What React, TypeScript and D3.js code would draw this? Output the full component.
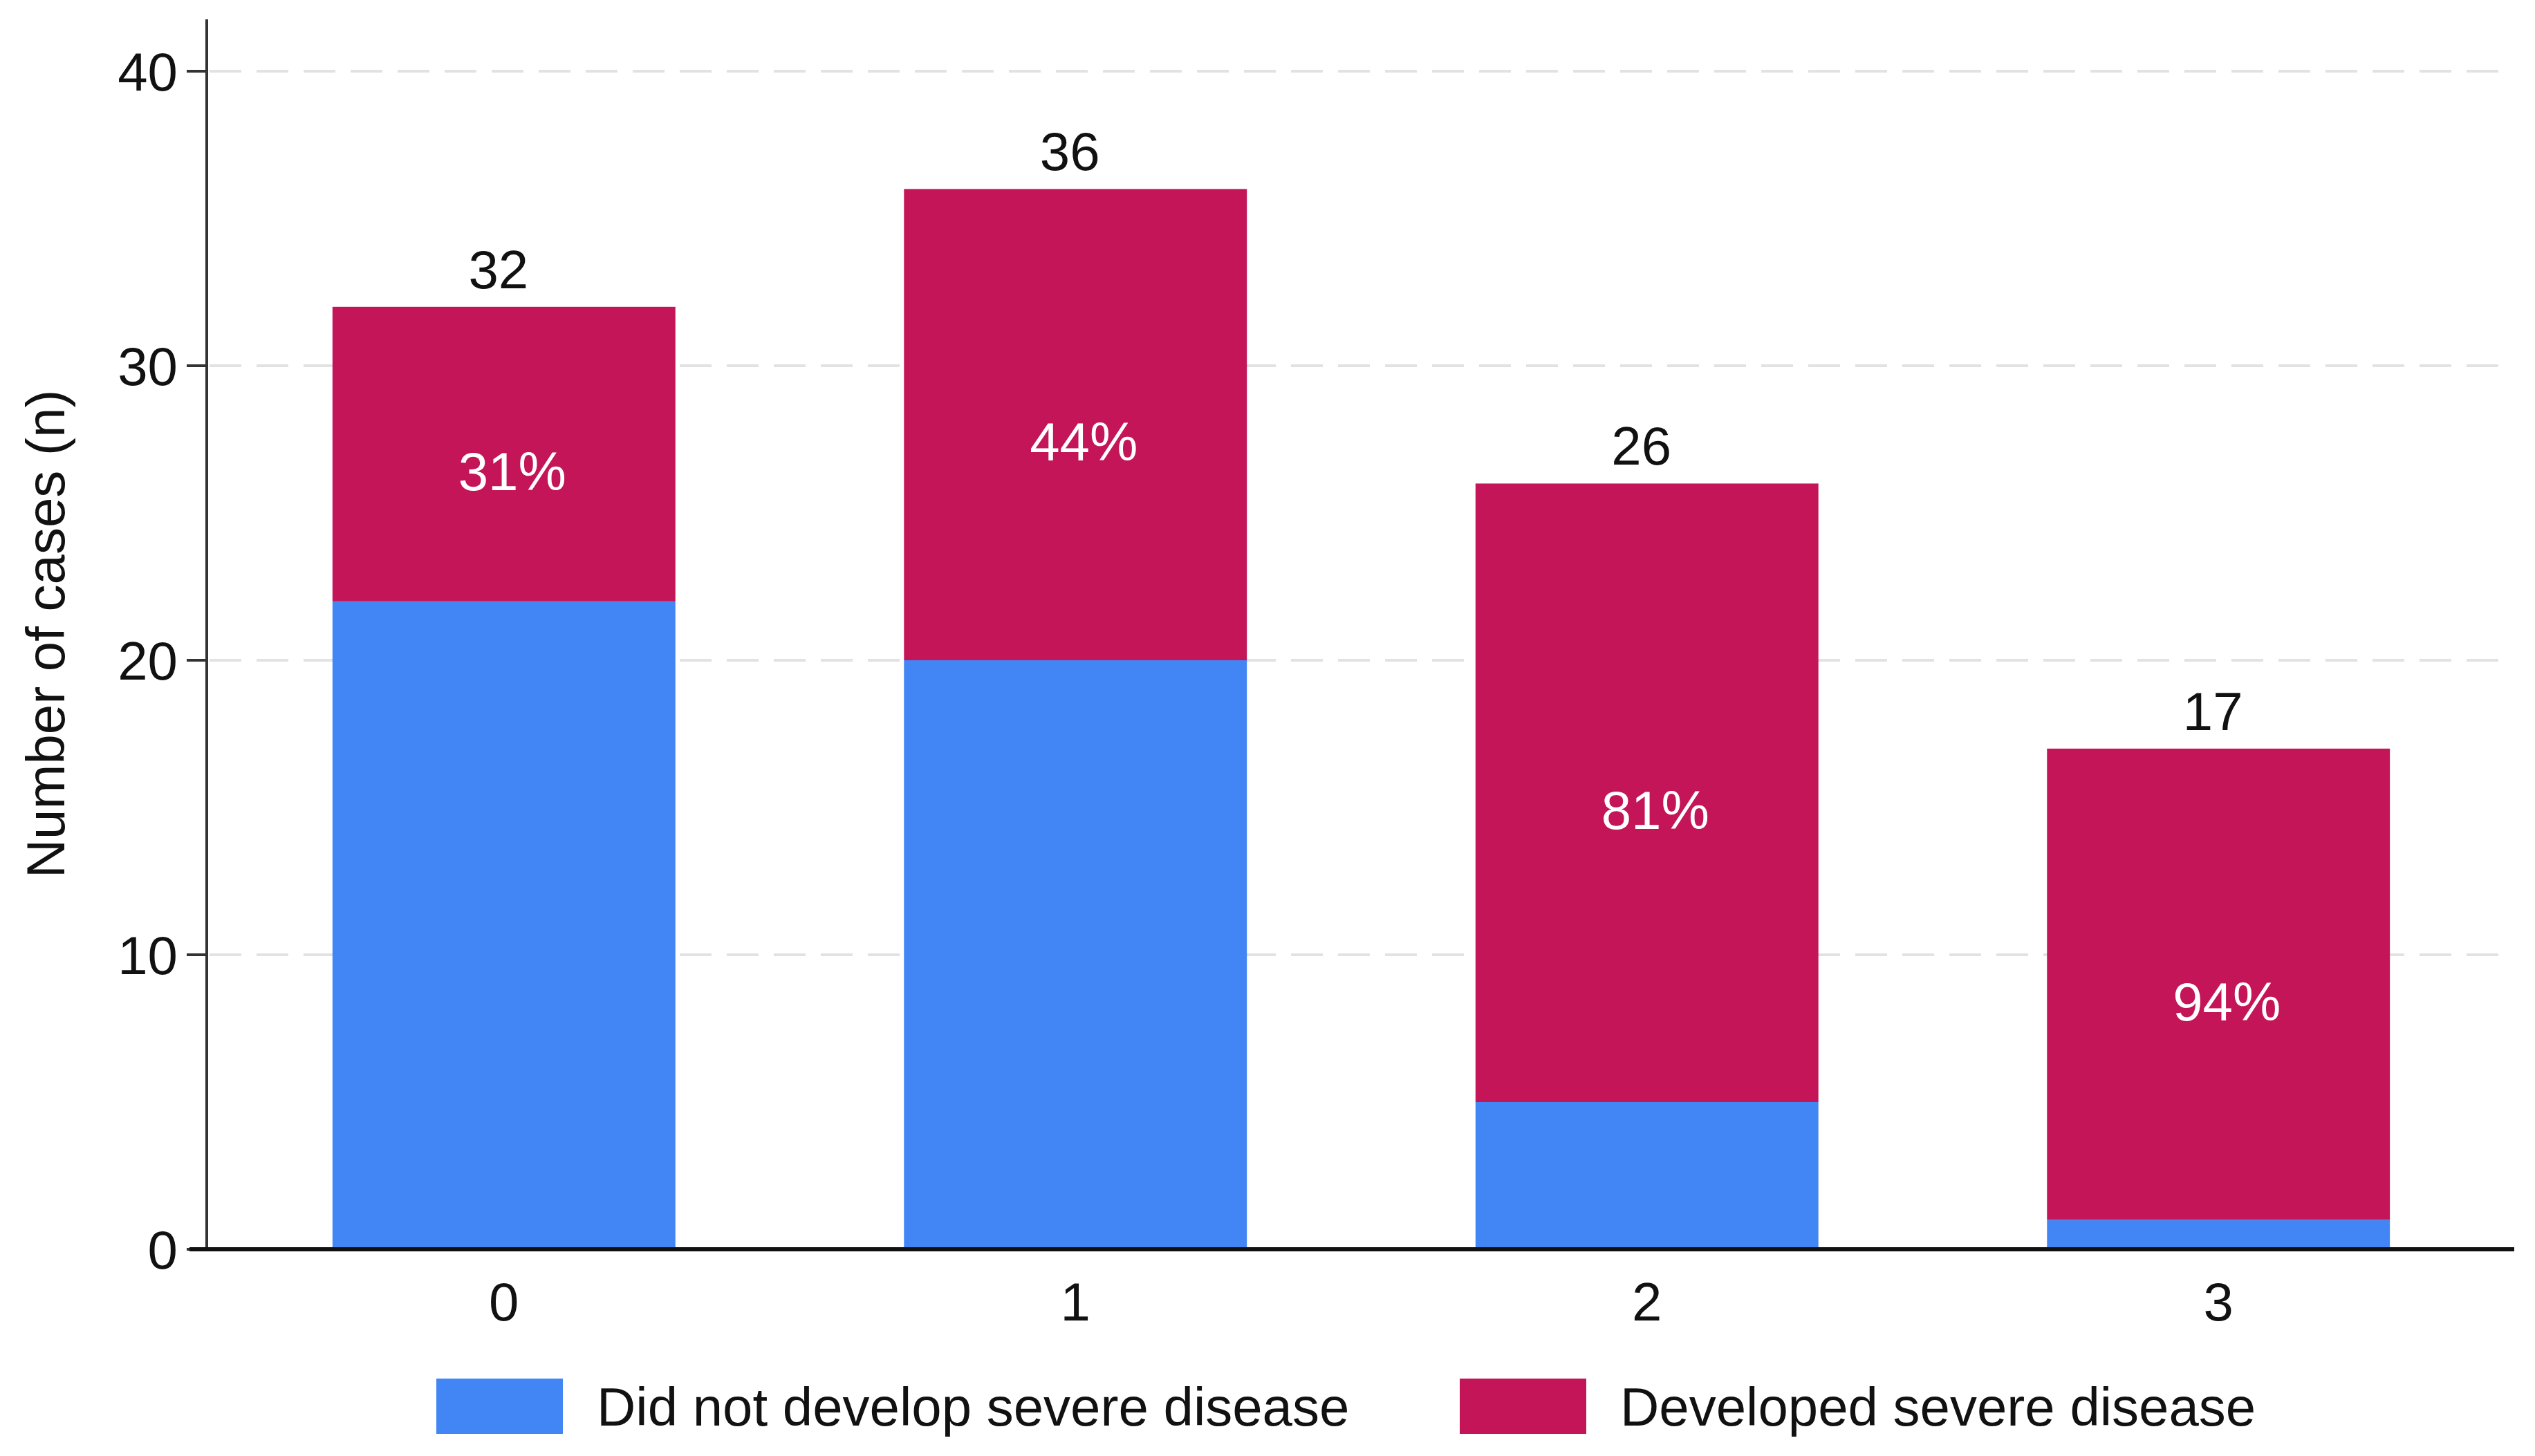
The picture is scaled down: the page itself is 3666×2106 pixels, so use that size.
import { useEffect } from "react";
import * as d3 from "d3";

// Data
const categories = ["0", "1", "2", "3"];
const notSevere = [22, 20, 5, 1];
const severe = [10, 16, 21, 16];
const yTicks = [0, 10, 20, 30, 40];
const seriesNames = ["Did not develop severe disease", "Developed severe disease"];

const BLUE = "#4285F4";
const RED = "#C31557";
const FONT = "'Liberation Sans', Arial, Helvetica, sans-serif";

const W = 3666;
const H = 2106;

export default function App() {
  useEffect(() => {
    document.body.style.margin = "0";
  }, []);

  const margin = { top: 103, left: 299, right: 28, bottom: 299 };
  const plotBottom = H - margin.bottom; // y of zero

  const x = d3
    .scaleBand<string>()
    .domain(categories)
    .range([margin.left, W - margin.right])
    .paddingInner(0.4)
    .paddingOuter(0.22);

  const y = d3.scaleLinear().domain([0, 40]).range([plotBottom, margin.top]);

  const rows = categories.map((c, i) => ({
    cat: c,
    no: notSevere[i],
    yes: severe[i],
    total: notSevere[i] + severe[i],
    pct: Math.round((severe[i] / (notSevere[i] + severe[i])) * 100),
  }));

  const fs = 78;

  return (
    <svg width={W} height={H} style={{ display: "block", background: "#fff" }} fontFamily={FONT}>
      {/* Grid lines */}
      {yTicks
        .filter((t) => t > 0)
        .map((t) => (
          <line
            key={`g${t}`}
            x1={margin.left + 4}
            x2={3620}
            y1={y(t)}
            y2={y(t)}
            stroke="#e2e2e2"
            strokeWidth={4}
            strokeDasharray="46 22"
          />
        ))}

      {/* Bars */}
      {rows.map((d) => (
        <g key={d.cat}>
          <rect x={x(d.cat)} y={y(d.no)} width={x.bandwidth()} height={y(0) - y(d.no)} fill={BLUE} />
          <rect x={x(d.cat)} y={y(d.total)} width={x.bandwidth()} height={y(d.no) - y(d.total)} fill={RED} />
        </g>
      ))}

      {/* Total labels */}
      {rows.map((d) => (
        <text
          key={`t${d.cat}`}
          x={(x(d.cat) as number) + x.bandwidth() / 2 - 8}
          y={y(d.total) - 27}
          textAnchor="middle"
          fontSize={fs}
          fill="#111"
        >
          {d.total}
        </text>
      ))}

      {/* Percent labels */}
      {rows.map((d) => (
        <text
          key={`p${d.cat}`}
          x={(x(d.cat) as number) + x.bandwidth() / 2 + 12}
          y={(y(d.no) + y(d.total)) / 2 + 52}
          textAnchor="middle"
          fontSize={fs}
          fill="#fff"
        >
          {d.pct}%
        </text>
      ))}

      {/* Y axis */}
      <line x1={margin.left} x2={margin.left} y1={28} y2={plotBottom} stroke="#333" strokeWidth={4} />
      {yTicks.map((t) => (
        <g key={`y${t}`}>
          <line x1={margin.left - 29} x2={margin.left} y1={y(t)} y2={y(t)} stroke="#333" strokeWidth={4} />
          <text x={margin.left - 42} y={y(t)} dy="0.36em" textAnchor="end" fontSize={fs} fill="#111">
            {t}
          </text>
        </g>
      ))}

      {/* X axis baseline */}
      <line x1={274} x2={3636} y1={plotBottom} y2={plotBottom} stroke="#111" strokeWidth={6} />
      {categories.map((c) => (
        <text
          key={`x${c}`}
          x={(x(c) as number) + x.bandwidth() / 2}
          y={plotBottom + 103}
          textAnchor="middle"
          fontSize={fs}
          fill="#111"
        >
          {c}
        </text>
      ))}

      {/* Y axis title */}
      <text
        transform={`translate(${65 + 28},${917}) rotate(-90)`}
        textAnchor="middle"
        fontSize={fs}
        fill="#111"
      >
        Number of cases (n)
      </text>

      {/* Legend */}
      {seriesNames.map((name, i) => {
        const lx = [631, 2111][i];
        return (
          <g key={name}>
            <rect x={lx} y={1994} width={183} height={80} fill={i === 0 ? BLUE : RED} />
            <text x={lx + 232} y={2034} dy="0.36em" fontSize={fs} fill="#111">
              {name}
            </text>
          </g>
        );
      })}
    </svg>
  );
}
